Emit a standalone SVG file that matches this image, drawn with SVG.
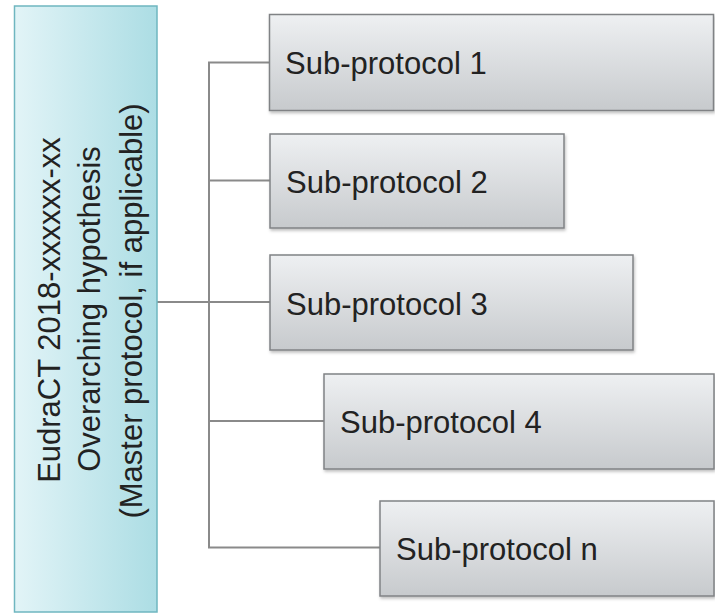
<svg xmlns="http://www.w3.org/2000/svg" width="715" height="613" viewBox="0 0 715 613">
<defs>
<linearGradient id="gGray" x1="0" y1="0" x2="0" y2="1">
<stop offset="0" stop-color="#eef0f2"/>
<stop offset="1" stop-color="#c7cacd"/>
</linearGradient>
<linearGradient id="gCyan" x1="0" y1="0" x2="1" y2="0">
<stop offset="0" stop-color="#e2f4f7"/>
<stop offset="1" stop-color="#acdde4"/>
</linearGradient>
<filter id="sh" x="-5%" y="-5%" width="110%" height="120%">
<feDropShadow dx="1" dy="2" stdDeviation="1.5" flood-color="#000" flood-opacity="0.25"/>
</filter>
</defs>
<style>
.box{fill:url(#gGray);stroke:#808285;stroke-width:1.5;filter:url(#sh)}
.main{fill:url(#gCyan);stroke:#6fb6c0;stroke-width:1.5}
.lbl{font-family:"Liberation Sans",Arial,sans-serif;font-size:31px;fill:#222}
.conn{fill:none;stroke:#8a8a8a;stroke-width:2}
</style>
<rect width="715" height="613" fill="#fff"/>
<g id="connectors">
<line class="conn" x1="157" y1="302" x2="270" y2="302"/>
<polyline class="conn" points="270,62.5 209,62.5 209,547.5 380,547.5"/>
<line class="conn" x1="209" y1="180.5" x2="270" y2="180.5"/>
<line class="conn" x1="209" y1="421" x2="324" y2="421"/>
</g>
<g id="master">
<rect class="main" x="14.5" y="6" width="142.5" height="606"/>
<text class="lbl" text-anchor="middle" transform="translate(60,310) rotate(-90)">EudraCT 2018-xxxxxx-xx</text>
<text class="lbl" text-anchor="middle" transform="translate(100,309) rotate(-90)">Overarching hypothesis</text>
<text class="lbl" text-anchor="middle" transform="translate(142,311) rotate(-90)">(Master protocol, if applicable)</text>
</g>
<g id="sub1">
<rect class="box" x="269.5" y="14.5" width="444" height="96"/>
<text class="lbl" x="285" y="74">Sub-protocol 1</text>
</g>
<g id="sub2">
<rect class="box" x="270" y="134" width="294" height="94"/>
<text class="lbl" x="286" y="193">Sub-protocol 2</text>
</g>
<g id="sub3">
<rect class="box" x="270" y="255" width="363" height="95"/>
<text class="lbl" x="286" y="315">Sub-protocol 3</text>
</g>
<g id="sub4">
<rect class="box" x="324" y="374" width="390" height="95"/>
<text class="lbl" x="340" y="433">Sub-protocol 4</text>
</g>
<g id="sub5">
<rect class="box" x="380" y="501" width="334" height="95"/>
<text class="lbl" x="396" y="560">Sub-protocol n</text>
</g>
</svg>
